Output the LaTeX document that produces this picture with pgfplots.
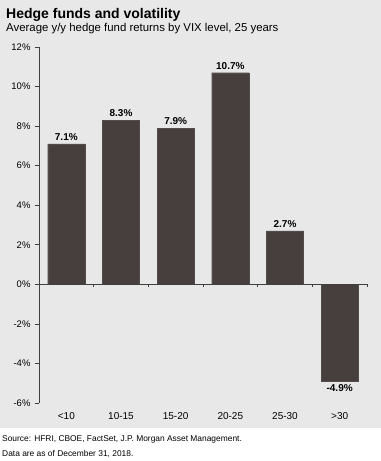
\documentclass[border=0pt]{standalone}
\usepackage{fontspec}
\setmainfont{Liberation Sans}
\usepackage{pgfplots}
\pgfplotsset{compat=1.18}
\definecolor{bgc}{HTML}{E8E8E8}
\definecolor{barc}{HTML}{473F3D}
\definecolor{axc}{HTML}{404040}
\begin{document}
\begin{tikzpicture}
\useasboundingbox (0,0) rectangle (381bp,-461bp);
\fill[bgc] (0,0) rectangle (381bp,-428bp);
\node[anchor=base west,inner sep=0pt,font=\fontsize{14bp}{16bp}\selectfont\bfseries] at (6bp,-18bp) {Hedge funds and volatility};
\node[anchor=base west,inner sep=0pt,font=\fontsize{11.4bp}{13bp}\selectfont] at (6bp,-31bp) {Average y/y hedge fund returns by VIX level, 25 years};
\node[anchor=base west,inner sep=0pt,font=\fontsize{8.4bp}{10bp}\selectfont] at (2bp,-441bp) {Source: HFRI, CBOE, FactSet, J.P. Morgan Asset Management.};
\node[anchor=base west,inner sep=0pt,font=\fontsize{8.4bp}{10bp}\selectfont] at (2bp,-456bp) {Data are as of December 31, 2018.};
\begin{axis}[
  at={(39bp,-403bp)}, anchor=south west,
  scale only axis, width=328bp, height=356bp,
  xmin=-0.5, xmax=5.5, ymin=-6, ymax=12,
  axis x line*=bottom, axis y line*=left,
  x axis line style={draw=none},
  xtick={0,...,5},
  xticklabels={{<10},{10-15},{15-20},{20-25},{25-30},{>30}},
  xtick style={draw=none},
  xticklabel style={font=\fontsize{10bp}{11bp}\selectfont, yshift=-2bp},
  y axis line style={draw=axc, line width=0.8pt},
  ytick={-6,-4,...,12},
  yticklabel={\pgfmathprintnumber{\tick}\%},
  /pgf/number format/assume math mode=true,
  yticklabel style={font=\fontsize{9.5bp}{11bp}\selectfont, xshift=-1bp},
  ytick style={draw=axc, line width=0.6pt},
  tick align=outside, major tick length=4bp,
  ybar, bar width=0.68,
  nodes near coords={\pgfmathprintnumber[fixed,fixed zerofill,precision=1]{\pgfplotspointmeta}\%},
  nodes near coords style={font=\fontsize{10bp}{11bp}\selectfont\bfseries, text=black},
  clip=false,
]
\addplot[fill=barc, draw=barc!80!gray, line width=0.3pt] coordinates {(0,7.1) (1,8.3) (2,7.9) (3,10.7) (4,2.7) (5,-4.9)};
\draw[axc, line width=0.8pt] (axis cs:-0.5,0) -- (axis cs:5.5,0);
\pgfplotsinvokeforeach{0.5,1.5,2.5,3.5,4.5,5.5}{\draw[axc, line width=0.6pt] (axis cs:#1,0) -- (axis cs:#1,-0.15);}
\end{axis}
\end{tikzpicture}
\end{document}
